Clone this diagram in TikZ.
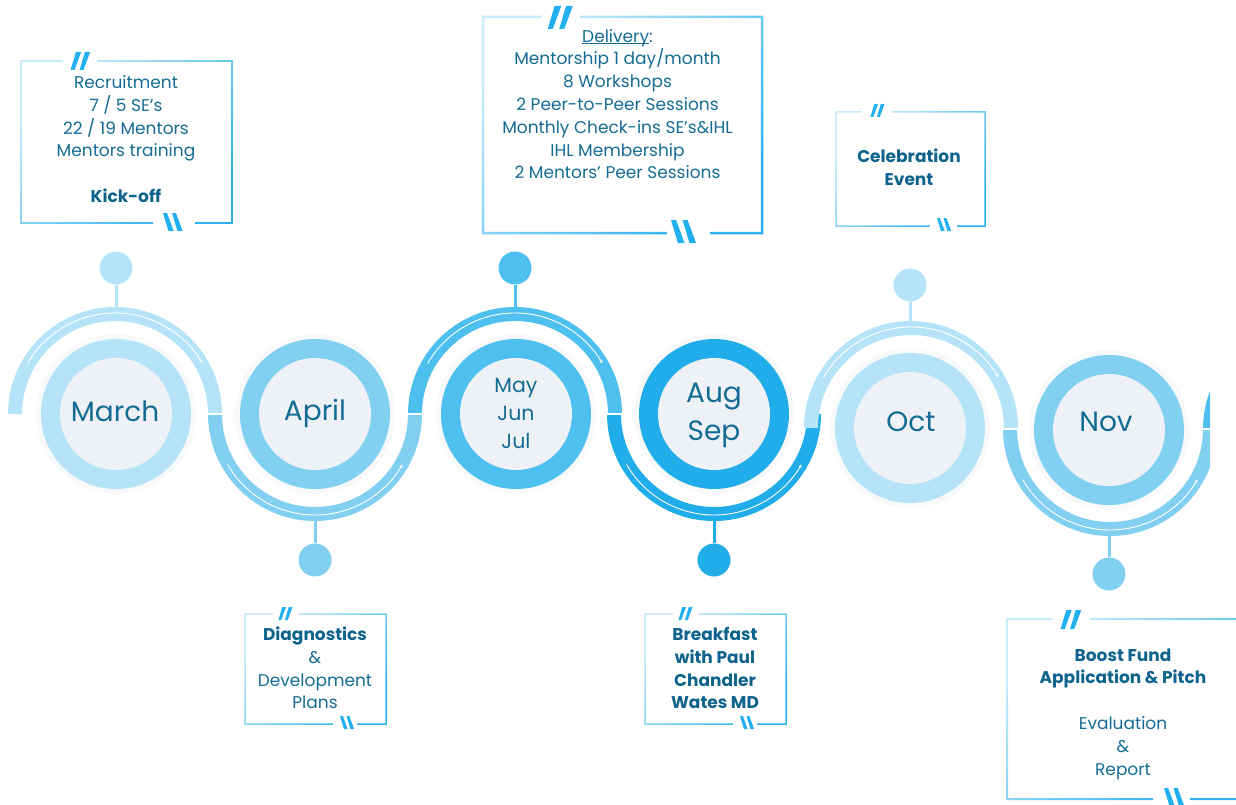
\documentclass[tikz,border=0pt]{standalone}
\usepackage{fontspec}
\setmainfont{Poppins}
\usetikzlibrary{calc,arrows.meta}
\definecolor{cA}{HTML}{B5E4F8}
\definecolor{cB}{HTML}{82D0F1}
\definecolor{cC}{HTML}{4DC0F0}
\definecolor{cD}{HTML}{21ADEA}
\definecolor{disc}{HTML}{EEF2F6}
\definecolor{halo}{HTML}{F8F9FA}
\definecolor{txt}{HTML}{146C94}
\definecolor{txtb}{HTML}{0D638C}
\definecolor{qc}{HTML}{22B0EE}
\definecolor{bl}{HTML}{C8EBFA}
\definecolor{bb}{HTML}{2AB1EE}
\newcommand\monthring[3]{%
  \fill[halo] (#1,#2) circle[radius=80];
  \fill[#3] (#1,#2) circle[radius=75];
  \fill[disc] (#1,#2) circle[radius=56];}
\newcommand\calloutframe[5]{%
  \shade[even odd rule, top color=bl, bottom color=bb, shading angle=45]
    (#1-#5/2,-#2+#5/2) rectangle (#3+#5/2,-#4-#5/2)
    (#1+#5/2,-#2-#5/2) rectangle (#3-#5/2,-#4+#5/2);}
\newcommand\framegap[3]{\fill[white] (#1,-#3+4) rectangle (#2,-#3-4);}
\newcommand\openquote[3]{%
  \fill[qc, shift={(#1,-#2)}, scale=#3]
    (0.33,0) -- (0.62,0) -- (0.25,-1) -- (0.03,-1) -- cycle
    (0.83,0) -- (1.12,0) -- (0.75,-1) -- (0.53,-1) -- cycle;}
\newcommand\closequote[3]{%
  \fill[qc, shift={(#1,-#2)}, scale=#3]
    (0,0) -- (0.22,0) -- (0.59,-1) -- (0.30,-1) -- cycle
    (0.5,0) -- (0.72,0) -- (1.09,-1) -- (0.80,-1) -- cycle;}
\tikzset{
  waveband/.style={line width=14pt, line cap=butt},
  flowline/.style={white, line width=0.9pt, -{Stealth[length=3.5pt,width=3.5pt]}},
  joint/.style={white, line width=1.2pt},
  pinnode/.style={circle, inner sep=0pt, minimum size=33pt},
  stem/.style={line width=3pt},
  monthtext/.style={text=txt, align=center},
  boxtext/.style={text=txt, align=center, font=\fontsize{17}{22.8}\selectfont}
}
\begin{document}
\begin{tikzpicture}[x=1pt,y=1pt]
\useasboundingbox (0,0) rectangle (1236,-805);
% centres
\coordinate (cM) at (115,-414);
\coordinate (cA) at (315,-414);
\coordinate (cMJ) at (515,-414);
\coordinate (cAS) at (714,-414);
\coordinate (cO) at (911,-428);
\coordinate (cN) at (1110,-429);
\coordinate (cX) at (1310,-429);
% halos and rings
\monthring{116}{-414}{cA}
\monthring{315}{-414}{cB}
\monthring{516}{-414}{cC}
\monthring{714}{-414}{cD}
\monthring{910}{-428}{cA}
\monthring{1109}{-430}{cB}
% wave
\begin{scope}
\clip (0,0) rectangle (1210,-805);
\draw[waveband, cA] ($(cM)+(180:100)$) arc[start angle=180, end angle=0, radius=100];
\draw[waveband, cB] ($(cA)+(180:100)$) arc[start angle=180, end angle=360, radius=100];
\draw[waveband, cC] ($(cMJ)+(180:100)$) arc[start angle=180, end angle=0, radius=100];
\draw[waveband, cD] ($(cAS)+(180:100)$) arc[start angle=180, end angle=360, radius=100];
\draw[waveband, cA] ($(cO)+(180:100)$) arc[start angle=180, end angle=0, radius=100];
\draw[waveband, cB] ($(cN)+(180:100)$) arc[start angle=180, end angle=360, radius=100];
\draw[waveband, cC] ($(cX)+(180:100)$) arc[start angle=180, end angle=140, radius=100];
% flow lines
\draw[flowline] ($(cM)+(150:101)$) arc[start angle=150, end angle=30, radius=101];
\draw[flowline] ($(cA)+(210:101)$) arc[start angle=210, end angle=330, radius=101];
\draw[flowline] ($(cMJ)+(150:101)$) arc[start angle=150, end angle=30, radius=101];
\draw[flowline] ($(cAS)+(210:101)$) arc[start angle=210, end angle=330, radius=101];
\draw[flowline] ($(cO)+(150:101)$) arc[start angle=150, end angle=30, radius=101];
\draw[flowline] ($(cN)+(210:101)$) arc[start angle=210, end angle=330, radius=101];
% joints
\draw[joint] (207,-414) -- (223,-414);
\draw[joint] (407,-414) -- (423,-414);
\draw[joint] (606,-414) -- (622,-414);
\draw[joint] (1003,-429) -- (1019,-429);
\draw[joint] (1202,-429) -- (1218,-429);
\end{scope}
% pins
\node[pinnode, fill=cA] (pM) at (116,-268) {};
\node[pinnode, fill=cB] (pA) at (315,-560) {};
\node[pinnode, fill=cC] (pMJ) at (515,-268) {};
\node[pinnode, fill=cD] (pAS) at (714,-560) {};
\node[pinnode, fill=cA] (pO) at (910,-285) {};
\node[pinnode, fill=cB] (pN) at (1109,-574) {};
\coordinate (wM) at (116,-310);
\coordinate (wA) at (315,-518);
\coordinate (wMJ) at (515,-310);
\coordinate (wAS) at (714,-518);
\coordinate (wO) at (910,-324);
\coordinate (wN) at (1109,-533);
\draw[stem, cA] (pM) -- (wM);
\draw[stem, cB] (pA) -- (wA);
\draw[stem, cC] (pMJ) -- (wMJ);
\draw[stem, cD] (pAS) -- (wAS);
\draw[stem, cA] (pO) -- (wO);
\draw[stem, cB] (pN) -- (wN);
% month labels
\node[monthtext, font=\fontsize{28}{30}\selectfont] (march) at (115,-411) {March};
\node[monthtext, font=\fontsize{28}{30}\selectfont] (april) at (315,-413) {April};
\node[monthtext, font=\fontsize{20.5}{28}\selectfont] (mjj) at (516,-413) {May\\Jun\\Jul};
\node[monthtext, font=\fontsize{28}{38}\selectfont] (as) at (714,-415) {Aug\\Sep};
\node[monthtext, font=\fontsize{28}{30}\selectfont] (oct) at (911,-422) {Oct};
\node[monthtext, font=\fontsize{28}{30}\selectfont] (nov) at (1106,-422) {Nov};
% callout frames
\calloutframe{21}{61}{232}{223}{1.8}
\framegap{63}{97}{61}\framegap{153}{195}{223}
\openquote{70}{52}{18}\closequote{163}{213}{18}
\calloutframe{483}{17}{762}{233}{2.5}
\framegap{542}{580}{17}\framegap{667}{710}{233}
\openquote{547}{6}{23}\closequote{671}{220}{23}
\calloutframe{836}{112}{985}{226}{1.5}
\framegap{862}{892}{112}\framegap{930}{957}{226}
\openquote{870}{104}{13}\closequote{937}{218}{13}
\calloutframe{245}{614}{386}{724}{1.5}
\framegap{273}{298}{614}\framegap{333}{357}{724}
\openquote{278}{607}{13}\closequote{340}{716}{13}
\calloutframe{645}{614}{786}{724}{1.5}
\framegap{673}{698}{614}\framegap{733}{757}{724}
\openquote{678}{607}{13}\closequote{740}{716}{13}
\calloutframe{1007}{619}{1250}{799}{2}
\framegap{1053}{1090}{619}\framegap{1153}{1190}{799}
\openquote{1060}{610}{19}\closequote{1164}{788}{19}
% box texts
\node[boxtext] (recruit) at (126,-139) {Recruitment\\7 / 5 SE’s\\22 / 19 Mentors\\Mentors training\\[22.8pt]\textbf{\color{txtb}Kick-off}};
\node[boxtext] (delivery) at (617.5,-106) {\underline{\smash{Delivery}}:\\Mentorship 1 day/month\\8 Workshops\\2 Peer-to-Peer Sessions\\Monthly Check-ins SE’s\&IHL\\IHL Membership\\2 Mentors’ Peer Sessions};
\node[boxtext, font=\fontsize{17}{22.8}\selectfont\bfseries, text=txtb] (celeb) at (909,-167) {Celebration\\Event};
\node[boxtext] (diag) at (315,-668) {\textbf{\color{txtb}Diagnostics}\\\&\\Development\\Plans};
\node[boxtext, font=\fontsize{17}{22.8}\selectfont\bfseries, text=txtb] (breakfast) at (715,-668) {Breakfast\\with Paul\\Chandler\\Wates MD};
\node[boxtext] (boost) at (1123,-714) {\textbf{\color{txtb}Boost Fund}\\\textbf{\color{txtb}Application \& Pitch}\\[22.8pt]Evaluation\\\&\\Report};
\end{tikzpicture}
\end{document}
